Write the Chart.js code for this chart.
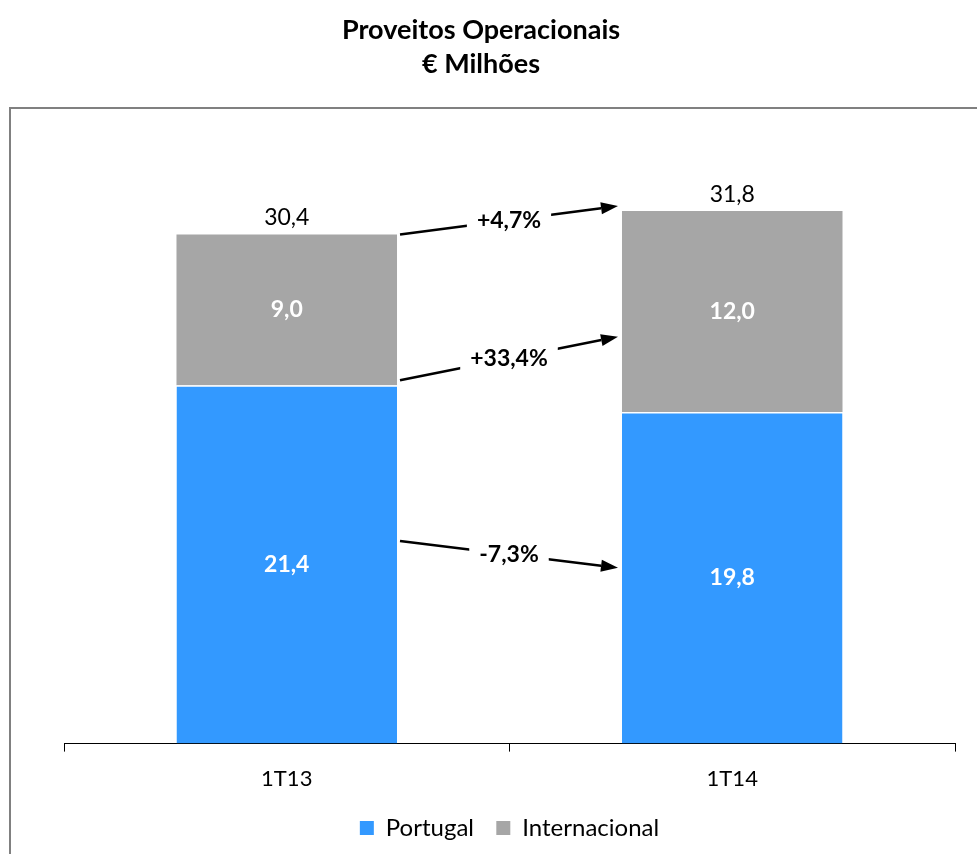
<!DOCTYPE html>
<html>
<head>
<meta charset="utf-8">
<script src="https://cdn.jsdelivr.net/npm/chart.js@4.4.1/dist/chart.umd.min.js"></script>
<style>
  html, body { margin: 0; padding: 0; background: #fff; }
  #wrap { width: 977px; height: 854px; }
</style>
</head>
<body>
<div id="wrap"><canvas id="barChart"></canvas></div>
<script>
// Proveitos Operacionais, € Milhões
const titleLines = ['Proveitos Operacionais', '€ Milhões'];
const categories = ['1T13', '1T14'];
const portugal = [21.4, 19.8];
const internacional = [9.0, 12.0];
const totals = [30.4, 31.8];

// variation arrows between the two bars (value where each arrow starts / ends)
const changeLabels = ['+4,7%', '+33,4%', '-7,3%'];
const arrowFrom = [30.4, 21.7, 12.1];
const arrowTo = [32.1, 24.3, 10.5];

let blue = '#3399FF';
let grey = '#A6A6A6';
let fontName = 'Lato, "Open Sans", sans-serif';

const ctx = document.getElementById('barChart');

// frame around the plot + title above it, like the Excel chart
const framePlugin = {
    id: 'frame',
    beforeDraw(chart) {
        const c = chart.ctx;
        c.save();
        c.strokeStyle = '#808080';
        c.lineWidth = 2;
        c.strokeRect(10, 108, 1000, 800);
        c.fillStyle = '#000';
        c.font = 'bold 27px ' + fontName;
        c.textAlign = 'center';
        c.textBaseline = 'middle';
        titleLines.forEach((t, i) => c.fillText(t, 481, 30 + i * 34));
        c.restore();
    }
};

// value labels inside segments and totals above
const labelPlugin = {
    id: 'labels',
    afterDatasetsDraw(chart) {
        const c = chart.ctx;
        const y = chart.scales.y;
        c.save();
        c.textAlign = 'center';
        c.textBaseline = 'middle';
        chart.data.datasets.forEach((ds, i) => {
            chart.getDatasetMeta(i).data.forEach((bar, j) => {
                c.fillStyle = '#fff';
                c.font = 'bold 23px ' + fontName;
                c.fillText(ds.data[j].toFixed(1).replace('.', ','), bar.x, (bar.y + bar.base) / 2);
            });
        });
        chart.getDatasetMeta(1).data.forEach((bar, j) => {
            c.fillStyle = '#000';
            c.font = '23px ' + fontName;
            c.fillText(totals[j].toFixed(1).replace('.', ','), bar.x, y.getPixelForValue(totals[j]) - 17);
        });
        c.restore();
    }
};

const arrowPlugin = {
    id: 'arrows',
    afterDatasetsDraw(chart) {
        const c = chart.ctx;
        const y = chart.scales.y;
        const b0 = chart.getDatasetMeta(0).data[0];
        const b1 = chart.getDatasetMeta(0).data[1];
        const x0 = b0.x + b0.width / 2 + 3;
        const x1 = b1.x - b1.width / 2 - 4;
        c.save();
        changeLabels.forEach((txt, i) => {
            const y0 = y.getPixelForValue(arrowFrom[i]);
            const y1 = y.getPixelForValue(arrowTo[i]);
            const ang = Math.atan2(y1 - y0, x1 - x0);
            const head = 17;
            c.strokeStyle = '#000';
            c.fillStyle = '#000';
            c.lineWidth = 2.5;
            c.beginPath();
            c.moveTo(x0, y0);
            c.lineTo(x1 - head * Math.cos(ang), y1 - head * Math.sin(ang));
            c.stroke();
            c.beginPath();
            c.moveTo(x1, y1);
            c.lineTo(x1 - head * Math.cos(ang) + 6 * Math.sin(ang), y1 - head * Math.sin(ang) - 6 * Math.cos(ang));
            c.lineTo(x1 - head * Math.cos(ang) - 6 * Math.sin(ang), y1 - head * Math.sin(ang) + 6 * Math.cos(ang));
            c.closePath();
            c.fill();
            // label sits on the arrow with a white gap
            const mx = (x0 + x1) / 2;
            const my = (y0 + y1) / 2;
            c.font = 'bold 23px ' + fontName;
            const w = c.measureText(txt).width;
            c.fillStyle = '#fff';
            c.fillRect(mx - w / 2 - 10, my - 15, w + 20, 30);
            c.fillStyle = '#000';
            c.textAlign = 'center';
            c.textBaseline = 'middle';
            c.fillText(txt, mx, my);
        });
        c.restore();
    }
};

new Chart(ctx, {
    type: 'bar',
    data: {
        labels: categories,
        datasets: [{
            label: 'Portugal',
            data: portugal,
            backgroundColor: blue,
            borderColor: '#fff',
            borderWidth: { top: 1.5, left: 0, right: 0, bottom: 0 },
            borderSkipped: false,
            categoryPercentage: 0.5,
            barPercentage: 0.99
        }, {
            label: 'Internacional',
            data: internacional,
            backgroundColor: grey,
            borderWidth: 0,
            categoryPercentage: 0.5,
            barPercentage: 0.99
        }]
    },
    options: {
        responsive: true,
        maintainAspectRatio: false,
        animation: false,
        layout: { padding: { left: 64, right: 22, top: 119, bottom: 4 } },
        plugins: {
            title: { display: false },
            legend: {
                position: 'bottom',
                labels: {
                    color: '#000',
                    font: { family: fontName, size: 24 },
                    boxWidth: 14,
                    boxHeight: 14,
                    padding: 10,
                    generateLabels(chart) {
                        const items = Chart.defaults.plugins.legend.labels.generateLabels(chart);
                        items.forEach(it => { it.lineWidth = 0; });
                        items[0].text = items[0].text + '  ';
                        return items;
                    }
                }
            },
            tooltip: { enabled: false }
        },
        scales: {
            x: {
                stacked: true,
                grid: {
                    offset: true,
                    drawOnChartArea: false,
                    drawTicks: true,
                    tickLength: 8,
                    color: '#000'
                },
                border: { display: true, color: '#000', width: 1 },
                ticks: { color: '#000', font: { family: fontName, size: 22 }, padding: 14 }
            },
            y: {
                stacked: true,
                display: false,
                beginAtZero: true,
                max: 37.3
            }
        }
    },
    plugins: [framePlugin, labelPlugin, arrowPlugin]
});
</script>
</body>
</html>
